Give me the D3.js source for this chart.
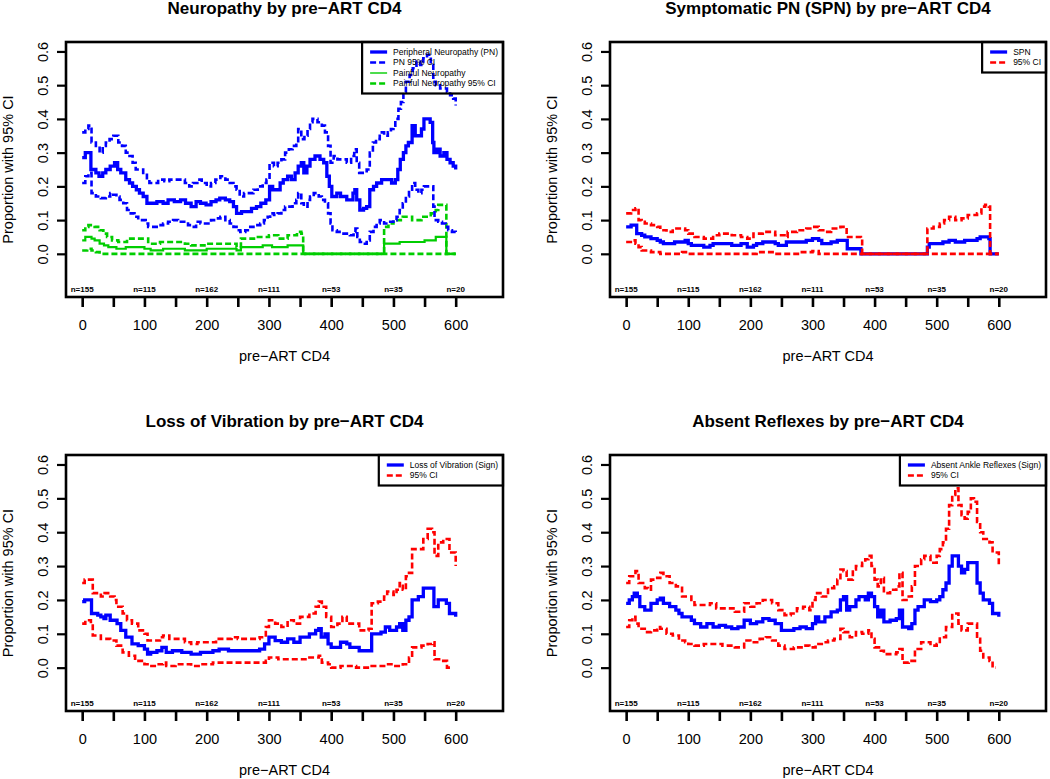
<!DOCTYPE html>
<html><head><meta charset="utf-8">
<script src="https://cdn.jsdelivr.net/npm/d3@7"></script>
<style>
body{margin:0;background:#fff;}
svg{display:block;font-family:"Liberation Sans",Arial,Helvetica,sans-serif;}
</style></head><body>
<svg id="c" width="1050" height="779"></svg>
<script>
// ---------- data (pre-ART CD4, proportion) ----------
const xTickValues = [0,50,100,150,200,250,300,350,400,450,500,550,600];
const xLabelValues = [0,100,200,300,400,500,600];
const yTickValues = [0,0.1,0.2,0.3,0.4,0.5,0.6];
const nLabels = ["n=155","n=115","n=162","n=111","n=53","n=35","n=20"];

const pnEst = [[0,.285],[5,.30],[14,.25],[22,.24],[27,.23],[33,.24],[38,.25],[45,.26],[52,.27],[57,.25],[62,.24],[70,.22],[76,.21],[81,.20],[87,.19],[92,.18],[98,.17],[104,.15],[112,.15],[120,.155],[130,.15],[138,.16],[148,.155],[158,.16],[166,.15],[175,.14],[183,.155],[190,.15],[199,.145],[207,.155],[215,.16],[221,.165],[230,.16],[237,.155],[243,.14],[248,.12],[256,.125],[264,.125],[272,.135],[280,.14],[287,.15],[295,.16],[301,.20],[306,.19],[312,.19],[318,.21],[323,.22],[330,.23],[336,.22],[342,.24],[347,.26],[352,.27],[356,.24],[361,.26],[366,.28],[374,.29],[382,.28],[388,.27],[393,.23],[397,.20],[401,.17],[409,.18],[415,.17],[420,.17],[425,.16],[430,.16],[435,.18],[438,.19],[441,.16],[446,.13],[452,.135],[457,.14],[462,.19],[468,.20],[473,.21],[481,.22],[489,.22],[497,.21],[503,.22],[507,.25],[511,.28],[516,.30],[520,.32],[524,.33],[530,.38],[535,.35],[540,.35],[545,.37],[549,.40],[559,.39],[563,.33],[565,.30],[570,.31],[575,.29],[581,.30],[586,.28],[591,.27],[596,.26],[600,.25]];
const pnHi = [[0,.36],[5,.37],[10,.38],[15,.33],[22,.32],[28,.30],[33,.32],[38,.33],[44,.34],[50,.35],[55,.35],[58,.33],[64,.32],[70,.30],[76,.29],[81,.27],[86,.25],[92,.25],[98,.24],[104,.22],[108,.21],[116,.21],[122,.22],[132,.215],[140,.22],[150,.22],[158,.22],[165,.21],[172,.20],[178,.21],[185,.22],[192,.21],[200,.20],[207,.21],[214,.22],[222,.23],[230,.22],[237,.21],[243,.20],[248,.19],[253,.17],[260,.18],[268,.18],[275,.19],[282,.20],[290,.21],[296,.22],[301,.27],[308,.26],[314,.27],[320,.28],[326,.30],[332,.31],[338,.32],[344,.33],[347,.37],[352,.34],[357,.35],[362,.37],[366,.39],[370,.40],[378,.39],[385,.38],[390,.36],[395,.32],[399,.27],[404,.29],[410,.28],[418,.28],[425,.27],[432,.29],[437,.31],[441,.27],[445,.24],[452,.24],[457,.25],[462,.30],[467,.33],[472,.34],[478,.36],[485,.35],[491,.36],[496,.37],[500,.38],[503,.40],[508,.43],[512,.45],[516,.48],[520,.51],[526,.53],[531,.55],[537,.57],[543,.56],[548,.58],[554,.59],[560,.56],[564,.51],[568,.50],[575,.49],[582,.49],[586,.48],[591,.47],[596,.46],[600,.44]];
const pnLo = [[0,.21],[5,.23],[10,.24],[15,.18],[22,.17],[30,.165],[38,.17],[45,.18],[50,.175],[55,.17],[60,.16],[66,.15],[72,.13],[78,.12],[84,.11],[90,.10],[96,.10],[102,.09],[106,.08],[115,.08],[122,.085],[130,.09],[138,.095],[146,.10],[154,.095],[162,.095],[170,.085],[176,.08],[183,.095],[190,.09],[199,.09],[207,.10],[215,.105],[222,.11],[230,.10],[237,.09],[243,.08],[248,.07],[254,.065],[262,.07],[270,.08],[278,.085],[286,.09],[292,.10],[298,.11],[302,.12],[308,.115],[314,.12],[320,.13],[326,.14],[332,.14],[338,.15],[344,.16],[347,.18],[352,.15],[356,.14],[362,.16],[366,.17],[372,.18],[380,.17],[385,.16],[390,.15],[395,.12],[399,.09],[402,.07],[409,.065],[416,.06],[424,.06],[430,.055],[436,.065],[439,.075],[442,.05],[446,.035],[452,.03],[457,.04],[462,.065],[468,.08],[473,.09],[478,.10],[485,.09],[492,.095],[500,.10],[505,.11],[510,.13],[515,.15],[520,.17],[525,.19],[530,.21],[535,.19],[540,.18],[545,.19],[549,.20],[559,.20],[564,.14],[566,.10],[572,.095],[578,.09],[584,.08],[588,.07],[594,.065],[600,.06]];
const painEst = [[0,.04],[5,.05],[15,.045],[20,.04],[28,.03],[35,.025],[42,.02],[55,.015],[70,.02],[100,.015],[110,.01],[130,.015],[150,.015],[165,.01],[195,.01],[200,.015],[230,.015],[248,.01],[255,.02],[290,.025],[305,.02],[330,.025],[355,0],[485,.03],[510,.035],[550,.04],[568,.05],[585,0],[600,0]];
const painHi = [[0,.07],[5,.08],[10,.085],[20,.08],[28,.07],[34,.06],[40,.05],[48,.04],[58,.035],[72,.045],[102,.045],[106,.03],[125,.035],[150,.035],[165,.03],[175,.025],[200,.03],[230,.03],[248,.02],[255,.045],[280,.05],[300,.055],[315,.045],[330,.055],[345,.065],[352,.06],[355,0],[485,.08],[492,.09],[500,.10],[515,.11],[530,.10],[545,.11],[560,.12],[568,.13],[572,.145],[585,0],[600,0]];
const painLo = [[0,.01],[8,.015],[15,.01],[22,.005],[28,0],[600,0]];

const spnEst = [[0,.08],[8,.085],[17,.06],[25,.055],[30,.05],[40,.045],[50,.04],[55,.035],[60,.03],[78,.035],[95,.04],[100,.03],[105,.025],[125,.02],[135,.025],[140,.03],[170,.025],[185,.03],[195,.02],[205,.025],[210,.03],[220,.035],[240,.03],[245,.025],[258,.035],[290,.04],[300,.045],[310,.04],[315,.03],[330,.035],[340,.04],[356,.015],[378,0],[485,.02],[488,.03],[510,.035],[520,.04],[530,.035],[545,.04],[565,.045],[570,.05],[584,.045],[586,0],[600,0]];
const spnHi = [[0,.12],[8,.13],[15,.135],[20,.10],[25,.095],[30,.09],[40,.085],[50,.08],[55,.07],[65,.065],[75,.075],[90,.075],[95,.07],[100,.06],[110,.05],[125,.045],[140,.055],[150,.06],[170,.055],[185,.05],[195,.045],[205,.06],[220,.065],[240,.055],[255,.05],[260,.065],[275,.07],[290,.075],[300,.08],[310,.07],[320,.065],[330,.075],[345,.08],[355,.05],[370,.05],[378,.045],[380,0],[485,.075],[495,.08],[505,.09],[512,.10],[520,.11],[530,.10],[540,.105],[550,.115],[565,.12],[572,.14],[578,.145],[584,.14],[586,0],[600,0]];
const spnLo = [[0,.035],[10,.04],[15,.03],[20,.02],[25,.01],[40,.005],[55,0],[90,.005],[100,0],[210,.005],[230,.005],[240,0],[280,.005],[300,.008],[310,0],[600,0]];

const lvEst = [[0,.195],[4,.20],[15,.16],[25,.155],[30,.15],[35,.145],[38,.155],[45,.14],[52,.14],[56,.13],[62,.11],[70,.09],[80,.07],[90,.065],[100,.055],[105,.04],[110,.045],[120,.05],[128,.06],[135,.045],[145,.05],[160,.045],[175,.04],[190,.045],[200,.045],[210,.05],[220,.055],[235,.05],[250,.05],[270,.05],[285,.055],[293,.07],[300,.09],[310,.08],[320,.075],[330,.085],[340,.075],[350,.09],[365,.10],[375,.11],[380,.115],[384,.09],[390,.10],[395,.07],[400,.06],[410,.06],[415,.075],[425,.07],[430,.06],[440,.06],[445,.05],[460,.05],[465,.10],[472,.10],[480,.105],[487,.12],[494,.11],[505,.12],[510,.13],[515,.11],[520,.14],[525,.15],[530,.20],[540,.21],[548,.235],[562,.235],[565,.18],[572,.20],[585,.19],[590,.16],[600,.15]];
const lvHi = [[0,.25],[4,.26],[14,.26],[17,.22],[30,.21],[36,.22],[45,.21],[52,.20],[55,.18],[65,.16],[72,.14],[80,.13],[90,.11],[100,.10],[105,.08],[115,.08],[125,.09],[130,.095],[140,.085],[150,.085],[165,.075],[175,.07],[185,.075],[200,.075],[215,.085],[230,.085],[240,.09],[250,.085],[270,.085],[285,.09],[295,.12],[300,.14],[310,.13],[320,.12],[330,.14],[340,.13],[350,.15],[365,.16],[375,.18],[380,.195],[385,.18],[392,.15],[400,.12],[410,.13],[418,.15],[425,.13],[435,.13],[445,.11],[460,.115],[465,.19],[475,.195],[485,.21],[490,.225],[500,.215],[505,.23],[510,.25],[515,.23],[520,.27],[525,.28],[530,.35],[540,.35],[548,.38],[555,.41],[562,.40],[566,.33],[572,.37],[580,.38],[590,.34],[600,.30]];
const lvLo = [[0,.13],[5,.14],[14,.13],[17,.095],[30,.085],[45,.08],[55,.065],[65,.045],[75,.035],[85,.02],[100,.01],[105,.005],[120,.01],[130,.015],[135,.005],[150,.01],[175,.005],[190,.01],[210,.015],[230,.015],[250,.015],[280,.015],[295,.02],[300,.03],[315,.025],[330,.025],[345,.025],[365,.03],[380,.035],[385,.015],[395,.01],[400,0],[415,.005],[440,0],[460,0],[465,.005],[480,.005],[488,.01],[500,.005],[515,.01],[525,.03],[530,.06],[545,.065],[555,.07],[562,.075],[566,.025],[580,.02],[586,0],[592,0]];

const arEst = [[0,.19],[5,.20],[10,.21],[13,.22],[18,.21],[22,.18],[30,.17],[35,.17],[40,.19],[45,.19],[50,.20],[55,.205],[60,.19],[70,.18],[80,.17],[85,.16],[90,.15],[100,.15],[105,.14],[110,.13],[120,.12],[130,.13],[140,.12],[150,.125],[160,.12],[170,.115],[180,.12],[190,.14],[200,.13],[210,.135],[220,.145],[230,.14],[240,.13],[250,.11],[260,.11],[270,.115],[280,.12],[290,.115],[300,.13],[305,.15],[310,.135],[320,.15],[330,.165],[340,.17],[345,.20],[350,.21],[355,.17],[360,.18],[370,.20],[375,.21],[385,.20],[390,.22],[395,.21],[400,.18],[405,.15],[410,.17],[415,.135],[425,.14],[435,.145],[440,.17],[445,.12],[455,.115],[460,.13],[465,.17],[470,.18],[480,.20],[490,.195],[500,.20],[505,.21],[510,.23],[515,.25],[520,.30],[525,.33],[530,.33],[535,.30],[540,.28],[545,.29],[550,.31],[560,.31],[565,.25],[570,.22],[575,.20],[585,.19],[590,.16],[600,.15]];
const arHi = [[0,.25],[5,.27],[15,.285],[20,.25],[30,.235],[35,.23],[40,.26],[50,.265],[55,.28],[60,.27],[70,.25],[80,.24],[90,.21],[100,.21],[105,.20],[110,.185],[125,.185],[135,.19],[145,.175],[160,.175],[175,.165],[190,.19],[200,.18],[210,.19],[220,.20],[235,.19],[245,.17],[255,.155],[265,.16],[275,.175],[285,.18],[295,.17],[300,.20],[305,.22],[315,.21],[325,.235],[335,.24],[340,.26],[345,.29],[350,.285],[355,.26],[365,.29],[370,.30],[380,.31],[385,.32],[390,.33],[395,.30],[400,.26],[405,.24],[410,.265],[415,.22],[425,.23],[435,.24],[440,.28],[445,.20],[455,.21],[460,.24],[465,.30],[475,.32],[480,.33],[490,.31],[500,.33],[505,.35],[510,.37],[515,.41],[520,.48],[525,.51],[530,.53],[535,.48],[540,.45],[545,.44],[550,.46],[555,.50],[560,.49],[565,.43],[570,.40],[575,.38],[585,.37],[590,.34],[600,.30]];
const arLo = [[0,.12],[5,.14],[10,.15],[15,.13],[20,.115],[30,.105],[40,.11],[50,.12],[55,.115],[65,.10],[75,.095],[85,.08],[95,.075],[100,.07],[110,.065],[125,.07],[140,.07],[155,.065],[175,.06],[190,.08],[200,.075],[215,.085],[225,.09],[235,.08],[245,.065],[255,.055],[270,.06],[285,.065],[295,.06],[305,.07],[315,.075],[325,.08],[335,.085],[345,.115],[350,.105],[360,.09],[370,.105],[380,.10],[390,.11],[395,.085],[400,.06],[410,.05],[415,.04],[425,.04],[435,.045],[440,.055],[445,.015],[455,.02],[465,.055],[475,.075],[490,.065],[500,.07],[505,.09],[515,.12],[525,.16],[535,.13],[540,.11],[550,.13],[560,.13],[565,.085],[570,.05],[575,.03],[585,.02],[590,0],[595,0]];

// ---------- styles ----------
const BLUE = "#0000ff", RED = "#ff0000", GREEN = "#00cd00";
const SOLID = {w:3.3, dash:null}, DASH = {w:2.6, dash:"6,3"}, THIN = {w:2.2, dash:null};

const panels = [
  {title:"Neuropathy by pre\u2212ART CD4", L:66, R:503, T:42, B:297,
   series:[
     {d:painLo, c:GREEN, s:DASH},{d:painHi, c:GREEN, s:DASH},{d:painEst, c:GREEN, s:THIN},
     {d:pnLo, c:BLUE, s:DASH},{d:pnHi, c:BLUE, s:DASH},{d:pnEst, c:BLUE, s:SOLID}],
   legend:[["Peripheral Neuropathy (PN)",BLUE,SOLID],["PN 95% CI",BLUE,DASH],["Painful Neuropathy",GREEN,{w:1.4,dash:null}],["Painful Neuropathy 95% CI",GREEN,DASH]]},
  {title:"Symptomatic PN (SPN) by pre\u2212ART CD4", L:610, R:1046, T:42, B:297,
   series:[{d:spnEst, c:BLUE, s:SOLID},{d:spnLo, c:RED, s:DASH},{d:spnHi, c:RED, s:DASH}],
   legend:[["SPN",BLUE,SOLID],["95% CI",RED,DASH]]},
  {title:"Loss of Vibration by pre\u2212ART CD4", L:66, R:503, T:455, B:711,
   series:[{d:lvEst, c:BLUE, s:SOLID},{d:lvLo, c:RED, s:DASH},{d:lvHi, c:RED, s:DASH}],
   legend:[["Loss of Vibration (Sign)",BLUE,SOLID],["95% CI",RED,DASH]]},
  {title:"Absent Reflexes by pre\u2212ART CD4", L:610, R:1046, T:455, B:711,
   series:[{d:arEst, c:BLUE, s:SOLID},{d:arLo, c:RED, s:DASH},{d:arHi, c:RED, s:DASH}],
   legend:[["Absent Ankle Reflexes (Sign)",BLUE,SOLID],["95% CI",RED,DASH]]}
];

const svg = d3.select("#c");

panels.forEach(p => {
  const x = d3.scaleLinear().domain([-26, 676]).range([p.L, p.R]);
  const y = d3.scaleLinear().domain([-0.128, 0.628]).range([p.B, p.T]);
  const g = svg.append("g");

  // title
  g.append("text").attr("x", (p.L+p.R)/2).attr("y", p.T-28.5)
    .attr("text-anchor","middle").attr("font-size",17).attr("font-weight","bold")
    .text(p.title);

  // x axis
  const xa = g.append("g").attr("transform",`translate(0,${p.B})`)
    .call(d3.axisBottom(x).tickValues(xTickValues).tickSize(10)
      .tickFormat(d => xLabelValues.includes(d) ? d : ""));
  xa.select(".domain").remove();
  xa.selectAll(".tick line").attr("stroke","#000").attr("stroke-width",2.6);
  xa.selectAll(".tick text").attr("y",23).attr("font-size",14.5)
    .attr("font-family","Liberation Sans, Arial, sans-serif").attr("fill","#000");

  // y axis
  const ya = g.append("g").attr("transform",`translate(${p.L},0)`)
    .call(d3.axisLeft(y).tickValues(yTickValues).tickSize(9).tickFormat(d3.format(".1f")));
  ya.select(".domain").remove();
  ya.selectAll(".tick line").attr("stroke","#000").attr("stroke-width",2.2);
  ya.selectAll(".tick text").attr("x",null).attr("dy",null).attr("y",null)
    .attr("transform","translate(-18,0) rotate(-90)").attr("text-anchor","middle")
    .attr("font-size",14.5).attr("font-family","Liberation Sans, Arial, sans-serif").attr("fill","#000");

  // axis titles
  g.append("text").attr("x",(p.L+p.R)/2).attr("y",p.B+64).attr("text-anchor","middle")
    .attr("font-size",14.5).text("pre\u2212ART CD4");
  g.append("text").attr("transform",`translate(${p.L-53},${(p.T+p.B)/2}) rotate(-90)`)
    .attr("text-anchor","middle").attr("font-size",14.5).text("Proportion with 95% CI");

  // n labels
  g.selectAll(".nlab").data(nLabels).enter().append("text")
    .attr("x",(d,i)=>x(xLabelValues[i])).attr("y",p.B-5)
    .attr("text-anchor","middle").attr("font-size",8).attr("font-weight","bold").text(d=>d);

  // series
  const line = d3.line().x(d=>x(d[0])).y(d=>y(d[1])).curve(d3.curveStepAfter);
  p.series.forEach(s => {
    g.append("path").attr("d", line(s.d)).attr("fill","none")
      .attr("stroke", s.c).attr("stroke-width", s.s.w)
      .attr("stroke-dasharray", s.s.dash);
  });

  // legend
  const lg = g.append("g");
  const texts = p.legend.map((e,i) => lg.append("text")
    .attr("y", p.T+10+i*10.5).attr("dy","0.33em").attr("font-size",8.5).text(e[0]));
  const maxW = d3.max(texts, t => t.node().getComputedTextLength());
  const lw = maxW + 36, lx = p.R - lw;
  texts.forEach(t => t.attr("x", lx+31));
  p.legend.forEach((e,i) => {
    lg.append("line").attr("x1",lx+8).attr("x2",lx+25)
      .attr("y1",p.T+10+i*10.5).attr("y2",p.T+10+i*10.5)
      .attr("stroke",e[1]).attr("stroke-width",e[2].w).attr("stroke-dasharray",e[2].dash);
  });
  const lh = 20 + (p.legend.length-1)*10.5;
  lg.append("rect").attr("x",lx).attr("y",p.T).attr("width",lw).attr("height",lh)
    .attr("fill","none").attr("stroke","#000").attr("stroke-width",2.2);

  // box
  g.append("rect").attr("x",p.L).attr("y",p.T).attr("width",p.R-p.L).attr("height",p.B-p.T)
    .attr("fill","none").attr("stroke","#000").attr("stroke-width",2.6);
});
</script>
</body></html>
